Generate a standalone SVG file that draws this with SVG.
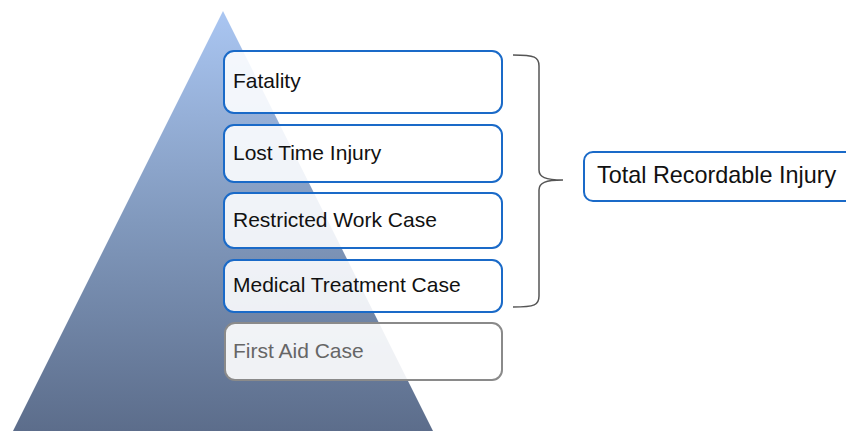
<svg xmlns="http://www.w3.org/2000/svg" width="846" height="431" viewBox="0 0 846 431">
  <style>
    .box { fill: #ffffff; fill-opacity: 0.88; stroke: #1a6ac8; stroke-width: 2; }
    .box-muted { fill: #ffffff; fill-opacity: 0.9; stroke: #8a8a8a; stroke-width: 2; }
    .lbl { font-family: "Liberation Sans", Arial, sans-serif; font-size: 21px; fill: #111111; }
    .lbl-muted { font-family: "Liberation Sans", Arial, sans-serif; font-size: 21px; fill: #666666; }
    .big { font-family: "Liberation Sans", Arial, sans-serif; font-size: 23.4px; fill: #111111; }
    .brace { fill: none; stroke: #555555; stroke-width: 1.5; }
  </style>
  <defs>
    <linearGradient id="tri" x1="0" y1="0" x2="0" y2="1">
      <stop offset="0" stop-color="#aac6f2"/>
      <stop offset="0.5" stop-color="#8199bd"/>
      <stop offset="1" stop-color="#5c6d8b"/>
    </linearGradient>
  </defs>
  <rect width="846" height="431" fill="#ffffff"/>
  <polygon id="pyramid" points="223,11 433,431 13,431" fill="url(#tri)"/>

  <g id="connectors">
    <path class="brace" d="M513,55 C535,55 539,57 539,66 L539,170 C539,177 545,180 563,180 C545,180 539,183 539,190 L539,296 C539,305 535,307 513,307"/>
  </g>

  <g id="fatality">
    <rect class="box" x="224" y="51" width="278" height="62" rx="10"/>
    <text class="lbl" x="233" y="88">Fatality</text>
  </g>
  <g id="lost-time-injury">
    <rect class="box" x="224" y="125" width="278" height="57" rx="10"/>
    <text class="lbl" x="233" y="160">Lost Time Injury</text>
  </g>
  <g id="restricted-work-case">
    <rect class="box" x="224" y="193" width="278" height="55" rx="10"/>
    <text class="lbl" x="233" y="227">Restricted Work Case</text>
  </g>
  <g id="medical-treatment-case">
    <rect class="box" x="224" y="260" width="278" height="52" rx="10"/>
    <text class="lbl" x="233" y="292">Medical Treatment Case</text>
  </g>
  <g id="first-aid-case">
    <rect class="box-muted" x="225" y="323" width="277" height="57" rx="10"/>
    <text class="lbl-muted" x="233" y="358">First Aid Case</text>
  </g>
  <g id="total-recordable-injury">
    <rect class="box" x="584" y="152" width="280" height="49" rx="9"/>
    <text class="big" x="597" y="183">Total Recordable Injury</text>
  </g>
</svg>
